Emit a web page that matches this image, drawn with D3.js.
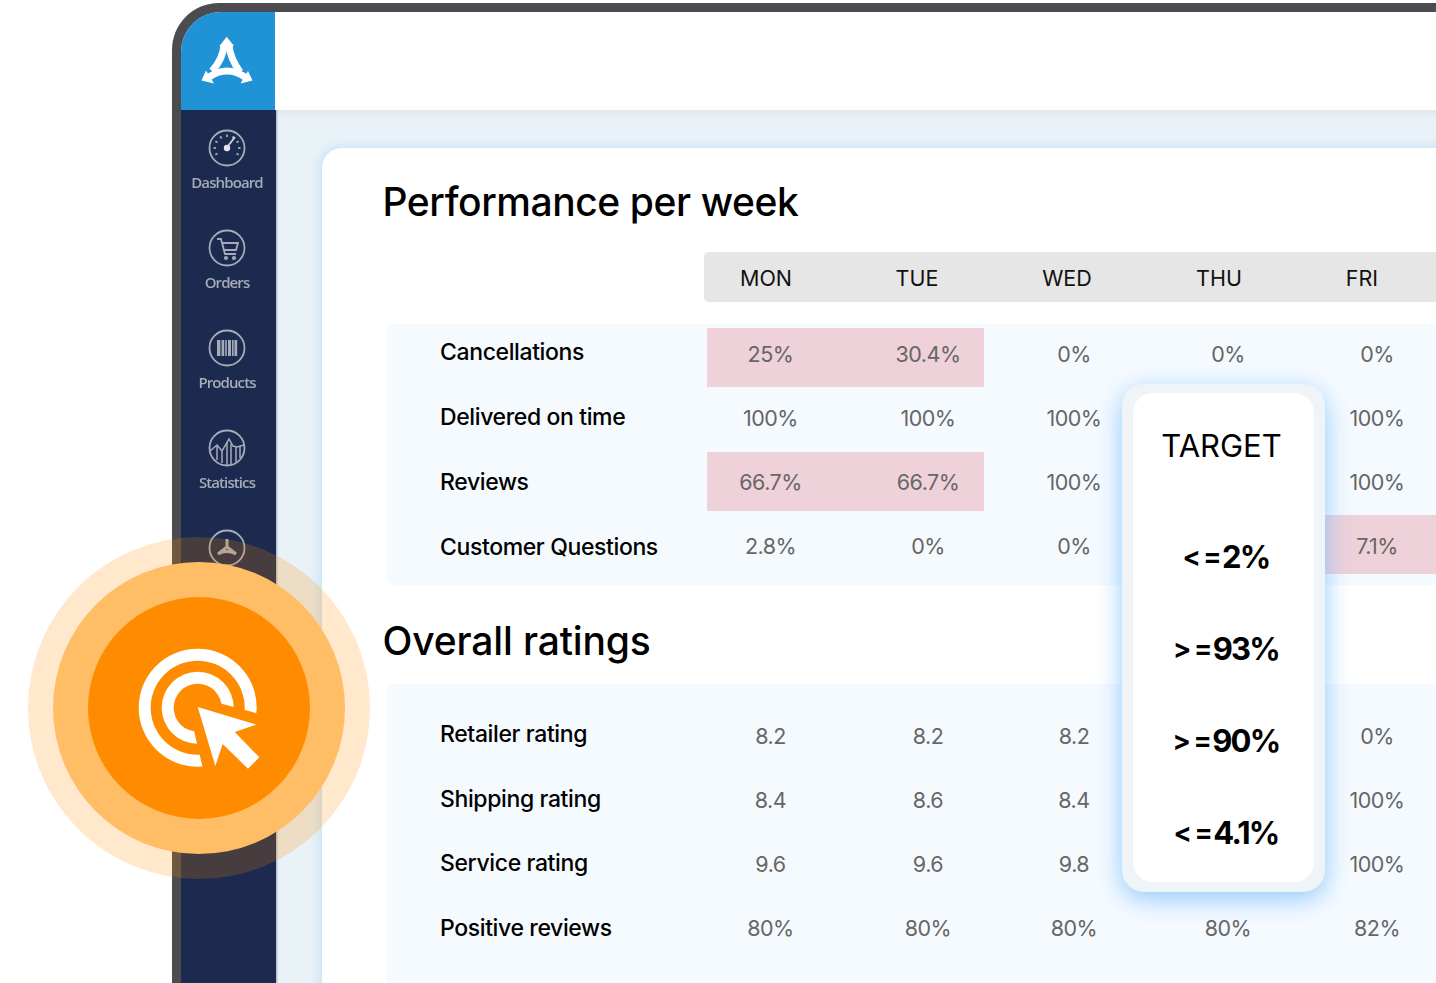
<!DOCTYPE html>
<html>
<head>
<meta charset="utf-8">
<script src="https://cdn.jsdelivr.net/npm/d3@7"></script>
<style>
  html, body { margin: 0; padding: 0; background: #fff; overflow: hidden; }
  svg { display: block; }
  text { font-family: Inter, "Noto Sans", sans-serif; }
</style>
</head>
<body>
<svg id="chart" width="1436" height="983"></svg>
<script>
const days = ['MON', 'TUE', 'WED', 'THU', 'FRI'];

const perfLabels = ['Cancellations', 'Delivered on time', 'Reviews', 'Customer Questions'];
const perfCancellations = [25, 30.4, 0, 0, 0];
const perfDelivered = [100, 100, 100, null, 100];
const perfReviews = [66.7, 66.7, 100, null, 100];
const perfQuestions = [2.8, 0, 0, null, 7.1];

const ratingLabels = ['Retailer rating', 'Shipping rating', 'Service rating', 'Positive reviews'];
const ratingRetailer = ['8.2', '8.2', '8.2', null, '0%'];
const ratingShipping = ['8.4', '8.6', '8.4', null, '100%'];
const ratingService = ['9.6', '9.6', '9.8', null, '100%'];
const ratingPositive = ['80%', '80%', '80%', '80%', '82%'];

const targetOps = ['<=', '>=', '>=', '<='];
const targetLimits = [2, 93, 90, 4.1];

const menuItems = ['Dashboard', 'Orders', 'Products', 'Statistics'];

const perfValues = [perfCancellations, perfDelivered, perfReviews, perfQuestions];
const ratingValues = [ratingRetailer, ratingShipping, ratingService, ratingPositive];

// the columns in the picture are not evenly spaced, so ordinal scales
const xHeader = d3.scaleOrdinal(days, [766, 917, 1067, 1219, 1362]);
const xCell = d3.scaleOrdinal(days, [770.5, 928, 1074, 1228, 1377]);
const xBand = d3.scaleOrdinal(days, [707, 846, 984, 1150, 1300]);
const xBandEnd = d3.scaleOrdinal(days, [846, 984, 1150, 1300, 1460]);
const yPerf = d3.scalePoint(d3.range(4), [354, 545.5]);
const yPerfLabel = d3.scalePoint(d3.range(4), [352, 547]);
const yBand = d3.scalePoint(d3.range(4), [328, 515]);
const yRating = d3.scalePoint(d3.range(4), [736, 928]);
const yRatingLabel = d3.scalePoint(d3.range(4), [734, 928]);
const yMenu = d3.scalePoint(d3.range(5), [148, 548]);
const yTarget = d3.scalePoint(d3.range(4), [557, 833]);

const svg = d3.select('#chart');
const defs = svg.append('defs');

defs.append('filter').attr('id', 'soft')
  .append('feGaussianBlur').attr('stdDeviation', 0.55);

const barGrad = defs.append('linearGradient').attr('id', 'barEdge')
  .attr('x1', 0).attr('x2', 0).attr('y1', 0).attr('y2', 1);
barGrad.append('stop').attr('offset', 0).attr('stop-color', '#e3e9ed');
barGrad.append('stop').attr('offset', 1).attr('stop-color', '#e9f2f7');

function box(parent, x, y, w, h, r, fill) {
  return parent.append('rect')
    .attr('x', x).attr('y', y).attr('width', w).attr('height', h)
    .attr('rx', r).attr('fill', fill);
}

// device frame
svg.append('path')
  .attr('d', 'M172,983 V50 A47,47 0 0 1 219,3 H1436 V983 Z')
  .attr('fill', '#4b4b50');
svg.append('path')
  .attr('d', 'M181,983 V52 A40,40 0 0 1 221,12 H1436 V983 Z')
  .attr('fill', '#ffffff');

// page background
svg.append('rect').attr('x', 275).attr('y', 110).attr('width', 1161).attr('height', 873).attr('fill', '#e9f2f7');
svg.append('rect').attr('x', 275).attr('y', 110).attr('width', 1161).attr('height', 10).attr('fill', 'url(#barEdge)');

// sidebar
svg.append('path')
  .attr('d', 'M181,110 H275 V12 H221 A40,40 0 0 0 181,52 Z')
  .attr('fill', '#2093d6');
svg.append('rect').attr('x', 181).attr('y', 110).attr('width', 95).attr('height', 873).attr('fill', '#1b2a4e');
svg.append('rect').attr('x', 276).attr('y', 110).attr('width', 1.5).attr('height', 873).attr('fill', '#b9c2cf');

// logo
const logo = svg.append('g').attr('filter', 'url(#soft)');
logo.selectAll('path.strand')
  .data(['M224,45 Q223,59 212,71', 'M229,45 Q230,58 240,72', 'M209,77 Q227,65 245,77'])
  .join('path').attr('class', 'strand')
  .attr('d', d => d).attr('fill', 'none').attr('stroke', '#fff').attr('stroke-width', 7);
logo.selectAll('path.head')
  .data(['M226.7,36.7 L219.5,46 H234 Z', 'M201.5,80.5 L206,70.5 L214,83.5 Z', 'M252.5,80.5 L248,71 L240.5,83.5 Z'])
  .join('path').attr('class', 'head')
  .attr('d', d => d).attr('fill', '#fff');

// menu icons and labels
const menuColor = '#a5abb9';
const menu = svg.append('g').attr('filter', 'url(#soft)');
d3.range(5).forEach(i => {
  menu.append('circle').attr('cx', 227).attr('cy', yMenu(i)).attr('r', 17.5)
    .attr('fill', 'none').attr('stroke', menuColor).attr('stroke-width', 1.8);
});
menu.selectAll('text.menu')
  .data(menuItems)
  .join('text').attr('class', 'menu')
  .attr('x', 227)
  .attr('y', (d, i) => yMenu(i) + 40)
  .attr('text-anchor', 'middle')
  .attr('fill', menuColor)
  .style('font-family', '"Open Sans"')
  .style('font-size', '15px')
  .style('font-weight', 600)
  .style('letter-spacing', '-0.9px')
  .text(d => d);

// dashboard gauge
const gauge = menu.append('g').attr('transform', `translate(227,${yMenu(0)})`);
d3.range(-120, 121, 30).forEach(a => {
  gauge.append('line').attr('y1', -13.5).attr('y2', -11)
    .attr('transform', `rotate(${a})`)
    .attr('stroke', menuColor).attr('stroke-width', 1.8);
});
gauge.append('circle').attr('r', 3.2).attr('fill', '#e4e6ea');
gauge.append('path').attr('d', 'M1,-2 L8,-11').attr('stroke', '#d5d8df').attr('stroke-width', 1.8);

// cart
const cart = menu.append('g').attr('transform', `translate(227,${yMenu(1)})`)
  .attr('fill', 'none').attr('stroke', menuColor).attr('stroke-width', 1.8);
cart.append('path').attr('d', 'M-10,-9 H-6 L-2,6 H9 M-5,-5 H11 L9,2 H-3');
cart.append('circle').attr('cx', -1).attr('cy', 10).attr('r', 1.2);
cart.append('circle').attr('cx', 7).attr('cy', 10).attr('r', 1.2);

// barcode
const barcode = menu.append('g').attr('transform', `translate(227,${yMenu(2)})`);
[[-10, 3.4], [-5.4, 2.6], [-1.8, 1.6], [1, 3], [5, 1.6], [7.4, 2.8]].forEach(b => {
  barcode.append('rect').attr('x', b[0]).attr('y', -8).attr('width', b[1]).attr('height', 16).attr('fill', menuColor);
});

// statistics
const stats = menu.append('g').attr('transform', `translate(227,${yMenu(3)})`)
  .attr('fill', 'none').attr('stroke', menuColor).attr('stroke-width', 1.5);
stats.append('path').attr('d', 'M-17,3 L-10,-3 L-5,3 L2,-9 L6,-2 L10,-1 L17,-3');
stats.append('path').attr('d', 'M-10,-3 V12 M-5,3 V15 M0,-6 V17 M4,-4 V17 M9,-1 V14 M13,-2 V10');

// small logo in the fifth icon
const mini = menu.append('g').attr('transform', `translate(227,${yMenu(4)})`)
  .attr('stroke', menuColor).attr('stroke-width', 3).attr('fill', 'none');
mini.append('path').attr('d', 'M0,-9 L0,-1 M0,-1 L-9,6 M0,-1 L9,6 M-9,6 Q0,1 9,6');

// white card
box(svg, 322, 148, 1140, 900, 20, '#ffffff')
  .style('filter', 'drop-shadow(-1px 0 6px rgba(150,205,250,0.55))');

// headings
function heading(label, y, spacing) {
  svg.append('text').attr('x', 382.5).attr('y', y)
    .attr('fill', '#000')
    .style('font-size', '39px')
    .style('font-weight', 500)
    .style('letter-spacing', spacing)
    .text(label);
}
heading('Performance per week', 215.5, '-0.42px');
heading('Overall ratings', 654.5, '-0.15px');

// header strip
box(svg, 704, 252, 760, 50, 5, '#e6e6e6');
svg.selectAll('text.day')
  .data(days)
  .join('text').attr('class', 'day')
  .attr('x', d => xHeader(d))
  .attr('y', 286)
  .attr('text-anchor', 'middle')
  .attr('fill', '#111')
  .style('font-size', '21.5px')
  .text(d => d);

// table panels
box(svg, 387, 324, 1070, 261, 9, '#f5faff');
box(svg, 387, 684, 1070, 320, 9, '#f5faff');

// cells that miss the target get a pink band
const missed = (v, r) => v !== null && (targetOps[r] === '<=' ? v > targetLimits[r] : v < targetLimits[r]);
const perfCells = perfValues.flatMap((row, r) => row.map((v, c) => ({r, day: days[c], v})));

svg.selectAll('rect.miss')
  .data(perfCells.filter(d => missed(d.v, d.r)))
  .join('rect').attr('class', 'miss')
  .attr('x', d => xBand(d.day))
  .attr('width', d => xBandEnd(d.day) - xBand(d.day))
  .attr('y', d => Math.floor(yBand(d.r)))
  .attr('height', 59)
  .attr('fill', '#eed1d9');

function rowLabels(labels, y) {
  svg.selectAll(null)
    .data(labels)
    .join('text')
    .attr('x', 440)
    .attr('y', (d, i) => y(i) + 8)
    .attr('fill', '#000')
    .style('font-size', '23px')
    .style('font-weight', 500)
    .style('letter-spacing', '-0.38px')
    .text(d => d);
}
rowLabels(perfLabels, yPerfLabel);
rowLabels(ratingLabels, yRatingLabel);

function cellText(cells, y) {
  svg.selectAll(null)
    .data(cells)
    .join('text')
    .attr('x', d => xCell(d.day))
    .attr('y', d => y(d.r) + 8)
    .attr('text-anchor', 'middle')
    .attr('fill', '#666')
    .style('font-size', '21.5px')
    .style('letter-spacing', '-0.5px')
    .text(d => d.text);
}
cellText(perfCells.filter(d => d.v !== null).map(d => ({...d, text: d.v + '%'})), yPerf);
cellText(ratingValues.flatMap((row, r) => row.map((v, c) => ({r, day: days[c], text: v}))).filter(d => d.text !== null), yRating);

// target popup
box(svg, 1122, 384, 203, 508, 22, '#eff4f8')
  .style('filter', 'drop-shadow(0 7px 13px rgba(110,185,250,0.75))');
box(svg, 1133, 393, 181, 489, 20, '#ffffff');

svg.append('text')
  .attr('x', 1221.5).attr('y', 457)
  .attr('text-anchor', 'middle')
  .attr('fill', '#000')
  .style('font-size', '31px')
  .text('TARGET');

svg.selectAll('text.target')
  .data(targetLimits)
  .join('text').attr('class', 'target')
  .attr('x', 1226)
  .attr('y', (d, i) => yTarget(i) + 11)
  .attr('text-anchor', 'middle')
  .attr('fill', '#000')
  .style('font-size', '31px')
  .style('font-weight', 700)
  .each(function (d, i) {
    const t = d3.select(this);
    t.append('tspan').attr('dy', -2).style('font-size', '27px').style('letter-spacing', '2.5px').text(targetOps[i][0]);
    t.append('tspan').style('font-size', '27px').style('letter-spacing', '0.5px').text('=');
    t.append('tspan').attr('dy', 2).style('letter-spacing', '-1.8px').text(d + '%');
  });

// click badge
const cx = 199, cy = 708;
svg.append('circle').attr('cx', cx).attr('cy', cy).attr('r', 171).attr('fill', '#ff8c00').attr('fill-opacity', 0.2);
svg.append('circle').attr('cx', cx).attr('cy', cy).attr('r', 146).attr('fill', '#ffbe66');
svg.append('circle').attr('cx', cx).attr('cy', cy).attr('r', 111).attr('fill', '#ff8c00');

const rings = svg.append('g').attr('transform', 'translate(197.7,707.7)');
[[47, 59], [24, 36]].forEach(r => {
  rings.append('path')
    .attr('d', d3.arc()({innerRadius: r[0], outerRadius: r[1], startAngle: 0, endAngle: 2 * Math.PI}))
    .attr('fill', '#fff');
});
svg.append('path').attr('d', 'M185.3,694 L270,716.7 V790 H208 Z').attr('fill', '#ff8c00');
svg.append('path')
  .attr('d', 'M197.7,707 L256.3,724.7 L234.7,732 L259.3,757.3 L248,768.7 L222.7,744 L215.3,766 Z')
  .attr('fill', '#fff');
</script>
</body>
</html>
